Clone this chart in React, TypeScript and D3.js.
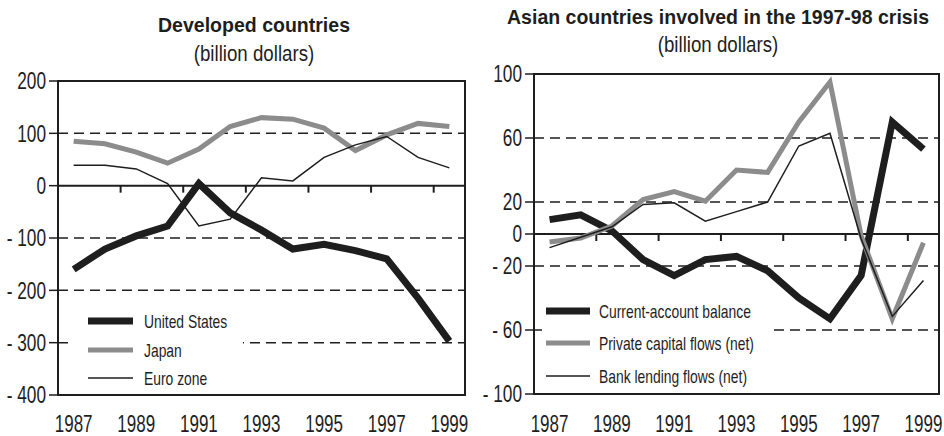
import { useEffect, useRef } from 'react';
import * as d3 from 'd3';

const years = [1987, 1988, 1989, 1990, 1991, 1992, 1993, 1994, 1995, 1996, 1997, 1998, 1999];
const yearLabels = [1987, 1989, 1991, 1993, 1995, 1997, 1999];

// Developed countries, current-account balances
const usBalance = [-160, -121, -96, -77, 4, -52, -85, -121, -112, -124, -140, -215, -297];
const japanBalance = [85, 80, 64, 43, 70, 113, 130, 127, 110, 67, 97, 119, 113];
const euroBalance = [39, 39, 32, 4, -77, -64, 15, 9, 54, 78, 94, 54, 34];

// Asian crisis countries
const asiaCurrentAccount = [9, 12, 2, -16, -26, -16, -14, -23, -40, -53, -26, 70, 53];
const asiaPrivateFlows = [-5, -2.5, 5, 21.5, 26.5, 20.5, 40, 38.5, 70, 95, -1, -53, -5.5];
const asiaBankLending = [-8.5, -2, 4.5, 18.5, 19.5, 8, 14, 20, 55, 63, -3, -51.5, -29];

const leftTicks = [200, 100, 0, -100, -200, -300, -400];
const leftGrid = [100, -100, -200, -300];
const rightTicks = [100, 60, 20, 0, -20, -60, -100];
const rightGrid = [60, 20, -20, -60];

// no condensed face installed, so squeeze Liberation Sans horizontally
const FONT = "'Liberation Sans', Arial, sans-serif";
const INK = '#1e1e1e';
const GREY = '#8c8c8c';

type Sel = d3.Selection<SVGGElement, unknown, null, undefined>;

interface Series {
  name: string;
  values: number[];
  color: string;
  width: number;
}

interface PanelSpec {
  title: string;
  titleX: number;
  titleY: number;
  subY: number;
  left: number;
  right: number;
  top: number;
  bottom: number;
  domain: [number, number];
  ticks: number[];
  grid: number[];
  series: Series[];
  legend: { x1: number; x2: number; textX: number; ys: number[] };
  gap: { y: number; x1: number; x2: number };
}

const fmt = (v: number) => (v < 0 ? `- ${-v}` : `${v}`);

function label(g: Sel, x: number, y: number, text: string, size: number, sx: number,
  anchor = 'start', weight = 'normal', dy = '0') {
  return g.append('text')
    .attr('transform', `translate(${x},${y}) scale(${sx},1)`)
    .attr('dy', dy)
    .attr('text-anchor', anchor)
    .style('font-family', FONT)
    .style('font-size', `${size}px`)
    .style('font-weight', weight)
    .style('fill', INK)
    .text(text);
}

function drawPanel(svg: d3.Selection<SVGSVGElement, unknown, null, undefined>, p: PanelSpec) {
  const x = d3.scalePoint<number>().domain(years).range([p.left, p.right]).padding(0.5);
  const y = d3.scaleLinear().domain(p.domain).range([p.bottom, p.top]);
  const g = svg.append('g');

  label(g, p.titleX, p.titleY, p.title, 21, 0.93, 'middle', 'bold');
  label(g, p.titleX, p.subY, '(billion dollars)', 22, 0.85, 'middle');

  // dashed gridlines
  g.selectAll('.grid')
    .data(p.grid)
    .join('line')
    .attr('x1', p.left)
    .attr('x2', p.right)
    .attr('y1', d => y(d))
    .attr('y2', d => y(d))
    .attr('stroke', INK)
    .attr('stroke-width', 1.5)
    .attr('stroke-dasharray', '10,6');

  // legend background interrupts one gridline
  g.append('rect')
    .attr('x', p.gap.x1)
    .attr('y', y(p.gap.y) - 3)
    .attr('width', p.gap.x2 - p.gap.x1)
    .attr('height', 6)
    .attr('fill', '#fff');

  // zero line and its ticks between odd years
  g.append('line')
    .attr('x1', p.left)
    .attr('x2', p.right)
    .attr('y1', y(0))
    .attr('y2', y(0))
    .attr('stroke', INK)
    .attr('stroke-width', 2);

  const step = x.step();
  g.selectAll('.xtick')
    .data(years.filter(yr => yr % 2 === 0))
    .join('line')
    .attr('x1', d => (x(d) ?? 0) + step / 2)
    .attr('x2', d => (x(d) ?? 0) + step / 2)
    .attr('y1', y(0))
    .attr('y2', y(0) + 7)
    .attr('stroke', INK)
    .attr('stroke-width', 2);

  // y ticks and labels
  g.selectAll('.ytick')
    .data(p.ticks)
    .join('line')
    .attr('x1', p.left - 9)
    .attr('x2', p.left)
    .attr('y1', d => y(d))
    .attr('y2', d => y(d))
    .attr('stroke', INK)
    .attr('stroke-width', 1.5);

  p.ticks.forEach(t => label(g, p.left - 12, y(t), fmt(t), 23, 0.75, 'end', 'normal', '0.36em'));
  yearLabels.forEach(yr => label(g, x(yr) ?? 0, 432, String(yr), 23, 0.74, 'middle'));

  // series, thin lines on top
  const line = d3.line<number>()
    .x((_, i) => x(years[i]) ?? 0)
    .y(d => y(d));

  const order = [...p.series].sort((a, b) => b.width - a.width);
  order.forEach(s => {
    g.append('path')
      .datum(s.values)
      .attr('d', line)
      .attr('fill', 'none')
      .attr('stroke', s.color)
      .attr('stroke-width', s.width)
      .attr('stroke-linejoin', 'miter');
  });

  // legend
  p.series.forEach((s, i) => {
    const ly = p.legend.ys[i];
    g.append('line')
      .attr('x1', p.legend.x1)
      .attr('x2', p.legend.x2)
      .attr('y1', ly)
      .attr('y2', ly)
      .attr('stroke', s.color)
      .attr('stroke-width', s.width);
    label(g, p.legend.textX, ly, s.name, 18.5, 0.75, 'start', 'normal', '0.36em');
  });

  // frame
  g.append('rect')
    .attr('x', p.left)
    .attr('y', p.top)
    .attr('width', p.right - p.left)
    .attr('height', p.bottom - p.top)
    .attr('fill', 'none')
    .attr('stroke', INK)
    .attr('stroke-width', 2);
}

export default function App() {
  const svgRef = useRef<SVGSVGElement>(null);

  useEffect(() => {
    if (!svgRef.current) return;
    const svg = d3.select(svgRef.current);
    svg.selectAll('*').remove();

    drawPanel(svg, {
      title: 'Developed countries',
      titleX: 254,
      titleY: 32,
      subY: 61,
      left: 58,
      right: 465,
      top: 81,
      bottom: 395,
      domain: [-400, 200],
      ticks: leftTicks,
      grid: leftGrid,
      series: [
        { name: 'United States', values: usBalance, color: INK, width: 7 },
        { name: 'Japan', values: japanBalance, color: GREY, width: 5 },
        { name: 'Euro zone', values: euroBalance, color: INK, width: 1.5 },
      ],
      legend: { x1: 88, x2: 133, textX: 144, ys: [321, 350, 378] },
      gap: { y: -300, x1: 72, x2: 243 },
    });

    drawPanel(svg, {
      title: 'Asian countries involved in the 1997-98 crisis',
      titleX: 718,
      titleY: 24,
      subY: 52,
      left: 534,
      right: 939,
      top: 74,
      bottom: 394,
      domain: [-100, 100],
      ticks: rightTicks,
      grid: rightGrid,
      series: [
        { name: 'Current-account balance', values: asiaCurrentAccount, color: INK, width: 7 },
        { name: 'Private capital flows (net)', values: asiaPrivateFlows, color: GREY, width: 5 },
        { name: 'Bank lending flows (net)', values: asiaBankLending, color: INK, width: 1.5 },
      ],
      legend: { x1: 546, x2: 590, textX: 599, ys: [311, 343, 376] },
      gap: { y: -60, x1: 542, x2: 769 },
    });
  }, []);

  return (
    <div style={{ position: 'absolute', left: 0, top: 0 }}>
      <svg ref={svgRef} width={944} height={436} style={{ display: 'block', background: '#fff' }}></svg>
    </div>
  );
}
